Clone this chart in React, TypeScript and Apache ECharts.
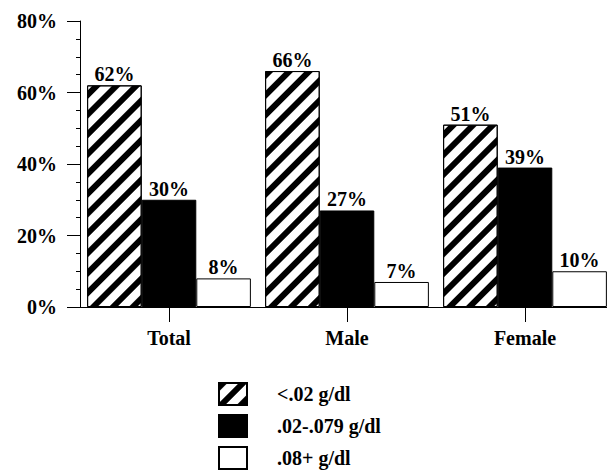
import React, { useEffect, useRef } from "react";
import * as echarts from "echarts";

const categories = ["Total", "Male", "Female"];
const lowBAC = [62, 66, 51];
const midBAC = [30, 27, 39];
const highBAC = [8, 7, 10];
const seriesNames = ["<.02 g/dl", ".02-.079 g/dl", ".08+ g/dl"];
const yTicks = [0, 20, 40, 60, 80];

const FONT = "Liberation Serif";
const FS = 20;

export default function App() {
  const ref = useRef<HTMLDivElement>(null);
  useEffect(() => {
    if (!ref.current) return;
    const chart = echarts.init(ref.current, null, { renderer: "svg" });
    const label = {
      show: true,
      position: "top" as const,
      distance: 1,
      formatter: (p: any) => p.value + "%",
      color: "#000",
      fontFamily: FONT,
      fontWeight: "bold" as const,
      fontSize: FS,
    };
    chart.setOption({
      animation: false,
      backgroundColor: "#fff",
      grid: { left: 80, top: 21, width: 534, height: 286 },
      legend: {
        orient: "vertical",
        left: 213,
        top: 377,
        height: 100,
        itemWidth: 28,
        itemHeight: 22,
        itemGap: 8,
        icon: "rect",
        textStyle: { color: "#000", fontFamily: FONT, fontWeight: "bold", fontSize: FS, padding: [0, 0, 0, 25] },
        data: seriesNames,
      },
      xAxis: {
        type: "category",
        data: categories,
        axisLine: { lineStyle: { color: "#000", width: 1 } },
        axisTick: { show: true, alignWithLabel: true, length: 15, lineStyle: { color: "#000" } },
        axisLabel: { color: "#000", fontFamily: FONT, fontWeight: "bold", fontSize: FS, margin: 21 },
      },
      yAxis: {
        type: "value",
        min: yTicks[0],
        max: yTicks[yTicks.length - 1],
        interval: 20,
        axisLine: { show: true, lineStyle: { color: "#000", width: 1 } },
        axisTick: { show: true, length: 13, lineStyle: { color: "#000" } },
        minorTick: { show: true, splitNumber: 4, length: 4, lineStyle: { color: "#000" } },
        splitLine: { show: false },
        axisLabel: {
          color: "#000",
          fontFamily: FONT,
          fontWeight: "bold",
          fontSize: FS,
          margin: 23,
          formatter: (v: number) => v + "%",
        },
      },
      series: [
        {
          name: seriesNames[0],
          type: "bar",
          data: lowBAC,
          barGap: "0%",
          barCategoryGap: "8%",
          itemStyle: {
            color: "#fff",
            borderColor: "#000",
            borderWidth: 1,
            decal: {
              symbol: "rect",
              color: "#000",
              backgroundColor: "#fff",
              dashArrayX: [1, 0],
              dashArrayY: [6, 8],
              rotation: -Math.PI / 4,
            },
          },
          label,
        },
        {
          name: seriesNames[1],
          type: "bar",
          data: midBAC,
          itemStyle: { color: "#000", borderColor: "#000", borderWidth: 1 },
          label,
        },
        {
          name: seriesNames[2],
          type: "bar",
          data: highBAC,
          itemStyle: { color: "#fff", borderColor: "#000", borderWidth: 1 },
          label,
        },
      ],
    });
    return () => chart.dispose();
  }, []);
  return (
    <div style={{ position: "fixed", left: 0, top: 0, width: 607, height: 476, overflow: "hidden", background: "#fff" }}>
      <div ref={ref} style={{ width: 620, height: 476 }} />
    </div>
  );
}
